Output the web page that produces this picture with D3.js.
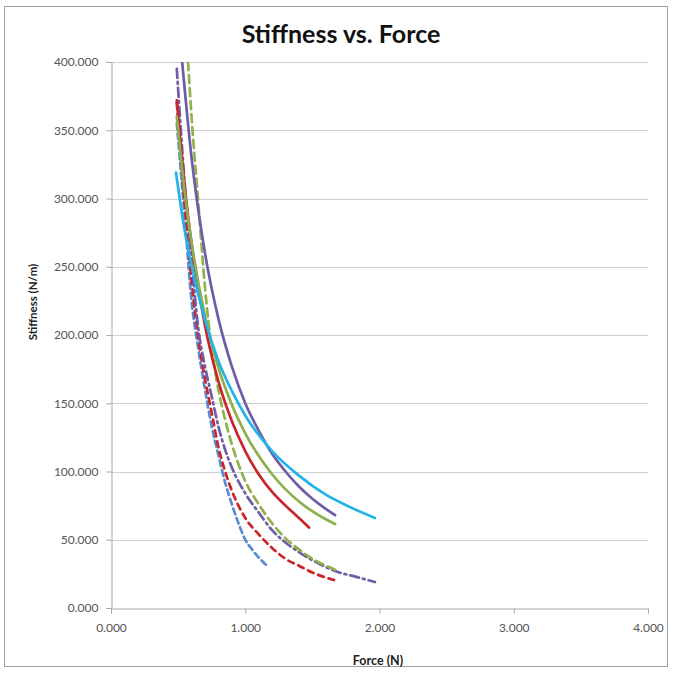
<!DOCTYPE html>
<html>
<head>
<meta charset="utf-8">
<script src="https://cdn.jsdelivr.net/npm/d3@7"></script>
<style>
  body { margin: 0; background: #fff; }
  svg { display: block; font-family: Lato, "Open Sans", sans-serif; }
</style>
</head>
<body>
<div id="chart"></div>
<script>
// Force (N) / Stiffness (N/m) pairs, one array per series
const cyanSolid = [[0.484, 319], [0.55, 276], [0.6, 251], [0.7, 211], [0.8, 181], [0.9, 159], [1.0, 141], [1.2, 115], [1.4, 97], [1.6, 83], [1.8, 73], [1.966, 66]];
const purpleSolid = [[0.52, 411], [0.6, 330], [0.7, 260], [0.8, 212], [0.9, 177], [1.0, 150], [1.1, 130], [1.2, 113], [1.3, 100], [1.4, 89], [1.5, 80], [1.669, 68]];
const greenSolid = [[0.49, 360], [0.55, 304], [0.6, 268], [0.7, 214], [0.8, 176], [0.9, 149], [1.0, 128], [1.2, 98], [1.4, 78], [1.6, 65], [1.669, 61.5]];
const redSolid = [[0.49, 372], [0.55, 308], [0.6, 267], [0.7, 207], [0.8, 166], [0.9, 137], [1.0, 115], [1.1, 98], [1.2, 85], [1.3, 75], [1.4, 66], [1.475, 59]];
const blueDashed = [[0.49, 355], [0.55, 285], [0.6, 225], [0.65, 190], [0.7, 160], [0.75, 133], [0.8, 112], [0.85, 92], [0.9, 76], [0.95, 62], [1.0, 50], [1.05, 43], [1.1, 37], [1.162, 31]];
const redDashed = [[0.49, 370], [0.55, 295], [0.6, 240], [0.65, 198], [0.7, 168], [0.75, 143], [0.8, 118], [0.85, 100], [0.9, 86], [1.0, 66], [1.1, 54], [1.2, 44], [1.3, 36], [1.4, 31], [1.5, 26], [1.661, 20.5]];
const purpleDashDot = [[0.49, 395], [0.55, 310], [0.6, 255], [0.65, 205], [0.7, 177], [0.75, 155], [0.8, 133], [0.85, 116], [0.9, 103], [1.0, 84], [1.1, 70], [1.2, 57], [1.3, 48], [1.4, 41], [1.5, 35], [1.6, 30], [1.7, 26], [1.8, 23.5], [1.966, 19]];
const greenDashed = [[0.574, 400], [0.6, 360], [0.648, 300], [0.7, 235], [0.75, 190], [0.8, 160], [0.85, 138], [0.9, 120], [1.0, 93], [1.1, 76], [1.2, 62], [1.3, 51], [1.4, 43], [1.5, 36], [1.6, 31], [1.669, 28]];

const xTicks = [0, 1, 2, 3, 4];
const yTicks = [0, 50, 100, 150, 200, 250, 300, 350, 400];

const series = [
  { data: blueDashed, color: '#5b8bd2', dash: '6,4' },
  { data: redDashed, color: '#cc2429', dash: '6,5' },
  { data: purpleDashDot, color: '#6f5ea6', dash: '9,4,2,4' },
  { data: greenDashed, color: '#8fb24e', dash: '8,5' },
  { data: redSolid, color: '#c8262b', dash: null },
  { data: greenSolid, color: '#8db04f', dash: null },
  { data: purpleSolid, color: '#6e5ca6', dash: null },
  { data: cyanSolid, color: '#22b4e8', dash: null },
];

const width = 674, height = 673;
const margin = { left: 111, right: 26, top: 62, bottom: 65 };

const svg = d3.select('#chart').append('svg')
  .attr('width', width)
  .attr('height', height);

// outer chart border
svg.append('rect')
  .attr('x', 4.5).attr('y', 6.5)
  .attr('width', 663).attr('height', 660)
  .attr('fill', '#fff')
  .attr('stroke', '#a0a0a0');

const x = d3.scaleLinear().domain([0, 4]).range([margin.left, width - margin.right]);
const y = d3.scaleLinear().domain([0, 400]).range([height - margin.bottom, margin.top]);

// gridlines
svg.append('g')
  .selectAll('line')
  .data(yTicks.filter(d => d > 0))
  .enter().append('line')
  .attr('x1', x(0)).attr('x2', x(4))
  .attr('y1', d => Math.round(y(d)) + 0.5)
  .attr('y2', d => Math.round(y(d)) + 0.5)
  .attr('stroke', '#cfcfcf');

// axes
const yAxis = svg.append('g')
  .attr('transform', `translate(${x(0) + 0.5},0)`)
  .call(d3.axisLeft(y).tickValues(yTicks).tickSize(5).tickPadding(8).tickFormat(d3.format('.3f')));
const xAxis = svg.append('g')
  .attr('transform', `translate(0,${Math.round(y(0)) + 0.5})`)
  .call(d3.axisBottom(x).tickValues(xTicks).tickSize(5).tickPadding(10).tickFormat(d3.format('.3f')));

[xAxis, yAxis].forEach(g => {
  g.select('.domain').attr('stroke', '#a8a8a8');
  g.selectAll('.tick line').attr('stroke', '#a8a8a8');
  g.selectAll('.tick text')
    .attr('fill', '#555')
    .style('font-size', '12px')
    .style('font-family', 'Lato, "Open Sans", sans-serif');
});

svg.append('clipPath').attr('id', 'plotClip')
  .append('rect')
  .attr('x', x(0)).attr('y', y(400))
  .attr('width', x(4) - x(0)).attr('height', y(0) - y(400));

const line = d3.line()
  .x(d => x(d[0]))
  .y(d => y(d[1]))
  .curve(d3.curveMonotoneX);

svg.append('g')
  .attr('clip-path', 'url(#plotClip)')
  .selectAll('path')
  .data(series)
  .enter().append('path')
  .attr('d', d => line(d.data))
  .attr('fill', 'none')
  .attr('stroke', d => d.color)
  .attr('stroke-width', 2.7)
  .attr('stroke-dasharray', d => d.dash)
  .attr('stroke-linecap', 'round');

// titles
svg.append('text')
  .attr('x', 341).attr('y', 43)
  .attr('text-anchor', 'middle')
  .style('font-size', '25px')
  .style('font-weight', 'bold')
  .attr('fill', '#111')
  .text('Stiffness vs. Force');

svg.append('text')
  .attr('x', 378).attr('y', 665)
  .attr('text-anchor', 'middle')
  .style('font-size', '12.5px')
  .style('font-weight', 'bold')
  .attr('fill', '#222')
  .text('Force (N)');

svg.append('text')
  .attr('transform', 'translate(37,302) rotate(-90)')
  .attr('text-anchor', 'middle')
  .style('font-size', '11.5px')
  .style('font-weight', 'bold')
  .attr('fill', '#222')
  .text('Stiffness (N/m)');
</script>
</body>
</html>
